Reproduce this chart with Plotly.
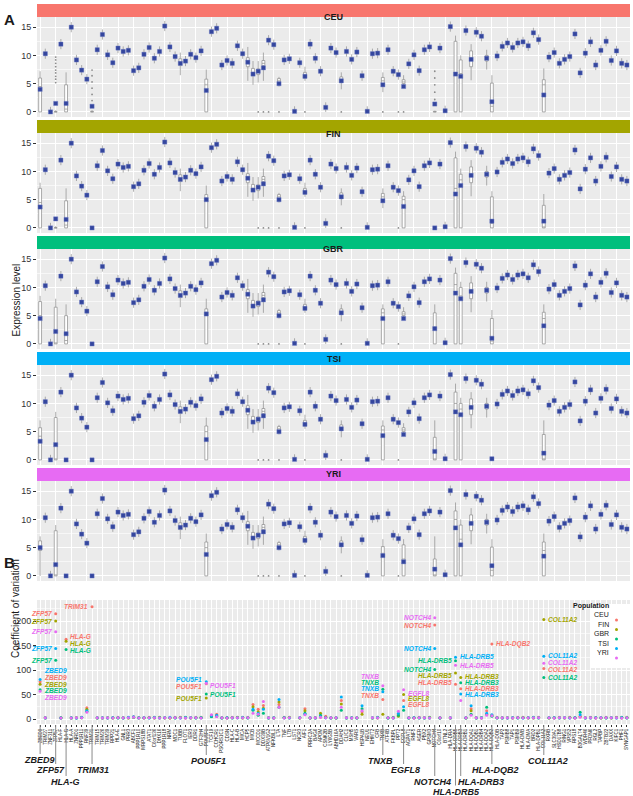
import plotly.graph_objects as go

W, H = 633, 796

genes = [
 "ZBED9","TRIM27","ZNF311","ZFP57","HLA-F","HLA-G","HLA-A","ZNRD1","PPP1R11","RNF39",
 "TRIM31","TRIM15","TRIM26","TRIM39","RPP21","HLA-E","GNL1","PRR3","ABCF1","PPP1R10",
 "MRPS18B","ATAT1","C6orf136","DHX16","PPP1R18","NRM","MDC1","TUBB","FLOT1","IER3",
 "DDR1","GTF2H4","POU5F1","TCF19","CCHCR1","PSORS1C1","CDSN","HLA-C","HLA-B","MICA",
 "HCP5","MICB","MCCD1","DDX39B","ATP6V1G2","NFKBIL1","LTA","TNF","LTB","LST1",
 "NCR3","AIF1","PRRC2A","BAG6","APOM","CSNK2B","LY6G5B","ABHD16A","DDAH2","CLIC1",
 "MSH5","VARS","HSPA1B","NEU1","EHMT2","CFB","TNXB","ATF6B","FKBPL","PPT2",
 "EGFL8","AGPAT1","RNF5","AGER","PBX2","GPSM3","NOTCH4","C6orf10","BTNL2","HLA-DRA",
 "HLA-DRB5","HLA-DRB3","HLA-DRB1","HLA-DQA1","HLA-DQB1","HLA-DRB4","HLA-DQA2","HLA-DQB2","HLA-DOB","TAP2",
 "PSMB8","TAP1","PSMB9","HLA-DMB","HLA-DMA","BRD2","HLA-DPB1","COL11A2","RXRB","SLC39A7",
 "HSD17B8","RING1","VPS52","RPS18","B3GALT4","WDR46","PFDN6","RGL2","TAPBP","ZBTB22",
 "DAXX","KIFC1","PHF1","SYNGAP1"]

pops = ["CEU", "FIN", "GBR", "TSI", "YRI"]
pop_colors = ["#F8766D", "#A3A500", "#00BF7D", "#00B0F6", "#E76BF3"]

# ---- Panel A: mean expression per gene ----
mean_CEU = [
 4.0, 10.3, 0.0, 1.5, 12.0, 1.5, 15.0, 9.2, 7.4, 5.8,
 1.0, 11.0, 13.7, 10.1, 8.7, 11.3, 10.7, 10.9, 7.3, 7.8,
 10.2, 11.4, 9.5, 10.7, 15.2, 11.5, 9.8, 8.6, 9.0, 10.2,
 9.6, 10.8, 3.8, 14.2, 14.8, 8.3, 9.1, 8.6, 11.7, 10.3,
 8.8, 6.7, 7.2, 7.8, 12.7, 11.9, 5.0, 9.2, 9.4, 0.1,
 8.7, 6.3, 12.0, 9.5, 7.2, 0.8, 11.3, 10.5, 5.5, 10.7,
 9.3, 10.6, 6.4, 0.1, 10.3, 10.4, 4.8, 11.0, 7.2, 6.6,
 4.5, 8.5, 10.1, 7.3, 11.0, 11.5, 1.4, 11.3, 0.2, 15.1,
 6.7, 6.3, 14.4, 9.3, 14.1, 13.4, 9.5, 1.8, 9.9, 11.6,
 12.2, 11.4, 12.2, 12.4, 11.7, 14.0, 12.8, 3.0, 9.7, 10.5,
 8.6, 9.3, 9.8, 13.8, 6.9, 10.4, 12.4, 8.3, 10.9, 12.5,
 9.1, 10.8, 8.6, 8.3]
# the other panels repeat the CEU pattern except at these genes
mean_FIN_diff = {0: 3.7, 3: 1.6, 10: 0.0, 32: 5.0, 70: 3.8, 76: 0.0, 80: 6.0, 81: 7.5,
                 87: 1.2, 97: 1.2}
mean_GBR_diff = {0: 4.5, 3: 2.2, 5: 1.8, 10: 0.0, 32: 5.3, 66: 4.5, 76: 2.7, 80: 9.0,
                 81: 8.0, 87: 1.0, 97: 3.2}
mean_TSI_diff = {0: 3.3, 3: 2.7, 5: 0.0, 10: 0.0, 32: 3.6, 66: 4.3, 76: 1.5, 80: 8.5,
                 81: 8.0, 87: 0.2, 97: 1.2}
mean_YRI_diff = {0: 5.0, 3: 2.0, 5: 0.0, 10: 0.0, 32: 3.8, 66: 3.6, 70: 2.5, 76: 1.2,
                 80: 8.5, 81: 5.5, 97: 3.5}

# genes with visibly wide boxes: index -> (q1, median, q3, lower whisker, upper whisker)
wide_CEU = {
 0: (0, 4.5, 6.0, 0, 7.2), 3: (0, 0, 0.05, 0, 0.3), 5: (0, 0.5, 4.8, 0, 7.0),
 10: (0, 0, 0.1, 0, 0.3), 27: (8.2, 8.6, 9.4, 6.5, 10.5), 32: (0, 4.8, 5.8, 0, 7.5),
 40: (8.0, 8.7, 9.6, 5.5, 11.5), 41: (6.5, 7.0, 7.7, 4.8, 9.0), 42: (6.6, 7.2, 7.6, 5.2, 9.0),
 43: (8.2, 8.6, 9.1, 5.5, 10.5), 46: (5.1, 5.5, 5.9, 4.5, 6.2), 51: (6.0, 6.5, 7.0, 5.5, 8.0),
 58: (5.2, 5.6, 6.2, 4.0, 7.0), 66: (5.0, 5.5, 6.1, 3.5, 7.0), 70: (5.0, 5.3, 5.7, 4.3, 6.5),
 76: (0, 0, 0.1, 0, 0.2),
 80: (0, 6.8, 12.5, 0, 13.5), 81: (0, 6.8, 9.2, 0, 10.0), 83: (8.0, 9.6, 10.8, 5.6, 12.0),
 86: (9.0, 9.5, 10.0, 7.5, 11.0), 87: (0, 1.0, 5.1, 0, 6.5), 97: (0, 4.8, 5.7, 0, 7.7)}
wide_FIN_diff = {0: (0, 4.5, 7.0, 0, 8.0), 10: (0, 0, 0, 0, 0), 32: (0, 5.3, 5.9, 0, 7.5),
                 70: (0, 5.0, 5.6, 0, 6.5), 76: (0, 0, 0, 0, 0), 80: (0, 7.0, 12.4, 0, 13.5),
                 81: (0, 8.5, 9.5, 0, 10.5), 87: (0, 0.8, 5.5, 0, 6.5), 97: (0, 0, 4.0, 0, 6.0)}
wide_GBR_diff = {0: (0, 5.0, 7.5, 0, 8.5), 3: (0, 0, 6.5, 0, 8.0), 5: (0, 0.6, 5.0, 0, 7.0),
                 10: (0, 0, 0, 0, 0), 32: (0, 5.6, 6.2, 0, 8.0), 66: (0, 5.5, 6.2, 0, 7.0),
                 76: (0, 3.0, 5.5, 0, 7.0), 80: (0, 10.5, 12.5, 0, 13.5),
                 81: (0, 8.5, 10.0, 0, 11.0), 87: (0, 0.5, 4.5, 0, 6.0), 97: (0, 4.5, 5.6, 0, 7.0)}
wide_TSI_diff = {0: (0, 4.2, 5.7, 0, 7.0), 3: (0, 0, 7.5, 0, 8.5), 5: (0, 0, 0, 0, 0),
                 10: (0, 0, 0, 0, 0), 32: (0, 5.0, 6.0, 0, 7.5), 66: (0, 5.3, 6.0, 0, 7.0),
                 76: (0, 0, 4.0, 0, 7.0), 80: (0, 10.0, 12.0, 0, 13.5),
                 81: (0, 9.0, 10.0, 0, 11.0), 87: (0, 0, 0.1, 0, 0.3), 97: (0, 0, 4.5, 0, 7.0)}
wide_YRI_diff = {0: (4.5, 5.3, 6.2, 0, 7.0), 3: (0, 0, 8.0, 0, 9.0), 5: (0, 0, 0, 0, 0),
                 10: (0, 0, 0, 0, 0), 32: (0, 5.0, 6.0, 0, 7.5), 66: (0, 4.0, 5.2, 0, 6.5),
                 70: (0, 3.0, 5.5, 0, 6.5), 76: (0, 0, 3.0, 0, 7.0),
                 80: (0, 10.0, 11.5, 0, 13.0), 81: (0, 6.5, 9.0, 0, 10.0),
                 97: (0, 4.5, 6.0, 0, 7.5)}

# outlying observations (small grey dots): gene index -> values
out_CEU = {3: [5.2, 5.8, 6.3, 6.9, 7.4, 8.0, 8.6, 9.2, 9.7], 10: [2.0, 3.1, 4.2, 5.3, 6.4, 7.4],
           76: [2.2, 3.5, 4.8, 6.0, 7.2], 42: [0], 43: [0], 44: [0], 46: [0], 51: [0],
           58: [0], 66: [0], 69: [0], 70: [0]}
out_other = {42: [0], 43: [0], 44: [0], 46: [0], 51: [0], 58: [0], 69: [0]}

# ---- Panel B: coefficient of variation per gene and population ----
cv_CEU = [76, 3, None, 215, 3, 163, 3, 3, 4, 23,
 229, 2, 3, 2, 3, 4, 2, 3, 5, 3,
 2, 4, 3, 3, 2, 3, 4, 3, 2, 3,
 4, 3, 72, 8, 10, 3, 2, 4, 3, 3,
 4, 30, 20, 28, 3, 2, 30, 4, 3, None,
 3, 21, 2, 3, 4, 6, 3, 2, 38, 3,
 2, 3, 15, None, 3, 2, 40, 3, 4, 10,
 38, 3, 2, 4, 3, 3, 192, 3, None, 2,
 71, 62, 2, 21, 3, 2, 17, 153, 4, 3,
 2, 3, 4, 3, 2, 3, 4, 103, 3, 2,
 4, 3, 3, 2, 6, 3, 4, 2, 3, 4,
 3, 4, 2, 3]
cv_FIN = [71, 2, None, 200, 2, 159, 2, 3, 3, 20,
 None, 3, 2, 3, 2, 3, 3, 2, 4, 3,
 3, 3, 2, 4, 3, 2, 3, 4, 3, 2,
 3, 4, 43, 6, 7, 2, 3, 3, 4, 2,
 3, 25, 15, 22, 2, 3, 35, 3, 4, None,
 2, 17, 3, 2, 12, 4, 2, 3, 31, 2,
 3, 2, 10, None, 2, 3, 10, 2, 3, 6,
 50, 2, 3, 3, 2, 4, None, 2, None, 3,
 94, 85, 3, 17, 2, 3, 10, 8, 3, 2,
 3, 2, 3, 4, 3, 2, 3, 203, 2, 3,
 3, 2, 4, 3, 5, 2, 3, 3, 2, 3,
 2, 3, 3, 4]
cv_GBR = [60, 3, None, 120, 3, 142, 2, 2, 3, 16,
 None, 2, 2, 3, 3, 2, 3, 3, 4, 2,
 3, 3, 4, 2, 3, 3, 2, 3, 4, 3,
 2, 3, 51, 5, 6, 3, 3, 2, 3, 4,
 2, 18, 8, 12, 3, 2, 24, 3, 2, None,
 3, 12, 2, 3, 8, 3, 3, 2, 18, 3,
 2, 3, 21, None, 2, 4, 61, 3, 2, 8,
 18, 3, 3, 2, 3, 2, 101, 3, None, 2,
 119, 74, 2, 10, 3, 3, 24, 6, 2, 3,
 3, 3, 2, 3, 3, 4, 2, 85, 3, 3,
 2, 3, 3, 3, 14, 3, 2, 3, 3, 2,
 3, 3, 4, 2]
cv_TSI = [81, 2, None, 144, 2, None, 3, 2, 4, 17,
 None, 3, 3, 2, 3, 3, 2, 4, 5, 3,
 3, 2, 3, 3, 3, 4, 3, 2, 3, 3,
 3, 3, 76, 7, 8, 2, 3, 3, 3, 3,
 3, 20, 12, 20, 2, 3, 40, 3, 3, None,
 3, 10, 3, 2, 5, 3, 2, 3, 45, 2,
 3, 2, 27, None, 3, 3, 56, 2, 3, 12,
 25, 2, 3, 3, 2, 3, 144, 2, None, 3,
 126, 51, 3, 27, 2, 3, 12, 9, 3, 2,
 2, 3, 3, 2, 3, 3, 3, 128, 3, 3,
 3, 3, 2, 3, 9, 2, 3, 3, 3, 3,
 3, 2, 3, 3]
cv_YRI = [57, 3, None, 178, 2, None, 2, 3, 3, 14,
 None, 3, 2, 3, 2, 3, 3, 3, 4, 2,
 3, 3, 3, 2, 3, 3, 3, 3, 2, 3,
 3, 2, 73, 9, 5, 3, 2, 3, 3, 3,
 3, 12, 10, 36, 3, 2, 24, 2, 3, None,
 3, 9, 3, 3, 4, 3, 3, 3, 24, 3,
 2, 3, 17, None, 3, 3, 68, 3, 2, 16,
 60, 3, 2, 3, 3, 2, 207, 3, None, 3,
 110, 38, 3, 8, 3, 2, 8, 7, 3, 3,
 3, 2, 3, 3, 3, 3, 3, 114, 3, 2,
 3, 3, 3, 2, 4, 3, 3, 2, 3, 3,
 3, 3, 2, 3]

# highlighted genes (labels below the x axis)
group_genes = ["ZBED9", "ZFP57", "HLA-G", "TRIM31", "POU5F1", "TNXB", "EGFL8",
               "NOTCH4", "HLA-DRB5", "HLA-DRB3", "HLA-DQB2", "COL11A2"]

def merged_list(base, diff):
    out = list(base)
    for k, v in diff.items():
        out[k] = v
    return out

def merged_dict(base, diff):
    out = dict(base)
    out.update(diff)
    return out

means = {"CEU": mean_CEU, "FIN": merged_list(mean_CEU, mean_FIN_diff),
         "GBR": merged_list(mean_CEU, mean_GBR_diff), "TSI": merged_list(mean_CEU, mean_TSI_diff),
         "YRI": merged_list(mean_CEU, mean_YRI_diff)}
wides = {"CEU": wide_CEU, "FIN": merged_dict(wide_CEU, wide_FIN_diff),
         "GBR": merged_dict(wide_CEU, wide_GBR_diff), "TSI": merged_dict(wide_CEU, wide_TSI_diff),
         "YRI": merged_dict(wide_CEU, wide_YRI_diff)}
outs = {"CEU": out_CEU, "FIN": out_other, "GBR": out_other, "TSI": out_other, "YRI": out_other}
cvs = dict(zip(pops, [cv_CEU, cv_FIN, cv_GBR, cv_TSI, cv_YRI]))
pcol = dict(zip(pops, pop_colors))

# ---------------- layout geometry (pixels) ----------------
X0, X1 = 37, 630
def py(p):
    return 1 - p / H
n = len(genes)
xrange_ = [-0.6, n - 1 + 0.6]

fig = go.Figure()
shapes, annots = [], []
BG = "#EBEBEB"
FONT = "Liberation Sans, Arial, sans-serif"

box_half, wh = 0.25, 0.9
for i, p in enumerate(pops):
    ax = "" if i == 0 else str(i + 1)
    m = means[p]
    q1, med, q3, lo, hi = [], [], [], [], []
    for g in range(n):
        if g in wides[p]:
            a, b, c, d, e = wides[p][g]
        else:
            v = m[g]
            a, b, c = max(v - box_half, 0), v, v + box_half
            d, e = max(v - wh, 0), v + wh
        q1.append(a); med.append(b); q3.append(c); lo.append(d); hi.append(e)
    fig.add_trace(go.Box(x=genes, q1=q1, median=med, q3=q3, lowerfence=lo, upperfence=hi,
                         xaxis="x" + ax, yaxis="y" + ax, fillcolor="white",
                         line=dict(color="#8C8C8C", width=0.7), width=0.55,
                         whiskerwidth=0, boxpoints=False, showlegend=False, hoverinfo="skip"))
    ox, oy = [], []
    for g, vals in outs[p].items():
        ox += [genes[g]] * len(vals)
        oy += vals
    fig.add_trace(go.Scatter(x=ox, y=oy, mode="markers", xaxis="x" + ax, yaxis="y" + ax,
                             marker=dict(size=1.8, color="#8C8C8C"), showlegend=False,
                             hoverinfo="skip"))
    fig.add_trace(go.Scatter(x=genes, y=m, mode="markers", xaxis="x" + ax, yaxis="y" + ax,
                             marker=dict(symbol="square", size=4.2, color="#34469E",
                                         line=dict(width=0.6, color="rgba(110,125,200,0.7)")),
                             showlegend=False, hoverinfo="skip"))
    top = 17 + 116 * i
    bot = 117 + 116 * i
    fig.layout["xaxis" + ax] = dict(domain=[X0 / W, X1 / W], anchor="y" + ax, type="category",
                                    categoryorder="array", categoryarray=genes, range=xrange_,
                                    showticklabels=False, ticks="", showgrid=True,
                                    gridcolor="white", gridwidth=0.6, zeroline=False,
                                    showline=False, automargin=False)
    fig.layout["yaxis" + ax] = dict(domain=[py(bot), py(top)], anchor="x" + ax, range=[-0.9, 16.8],
                                    tickvals=[0, 5, 10, 15], ticks="outside", ticklen=3,
                                    tickcolor="#333333", tickwidth=0.8,
                                    tickfont=dict(size=9, color="#333333", family=FONT),
                                    showgrid=True, gridcolor="white", gridwidth=0.9,
                                    minor=dict(dtick=2.5, tick0=0, showgrid=True,
                                               gridcolor="#F7F7F7", gridwidth=0.5),
                                    zeroline=False, showline=False, automargin=False)
    shapes.append(dict(type="rect", xref="paper", yref="paper", x0=X0 / W, x1=X1 / W,
                       y0=py(top), y1=py(top - 13), fillcolor=pcol[p], line=dict(width=0),
                       layer="below"))
    shapes.append(dict(type="rect", xref="paper", yref="paper", x0=X0 / W, x1=X1 / W,
                       y0=py(bot), y1=py(top), fillcolor=BG, line=dict(width=0), layer="below"))
    annots.append(dict(x=(X0 + X1) / 2 / W, y=py(top - 6.5), xref="paper", yref="paper",
                       text="<b>%s</b>" % p, showarrow=False,
                       font=dict(size=9, color="#1A1A1A", family=FONT)))

# ---------------- Panel B ----------------
BT, BB = 600, 724
for p in pops:
    fig.add_trace(go.Scatter(x=genes, y=cvs[p], mode="markers", xaxis="x6", yaxis="y6",
                             marker=dict(size=3.0, color=pcol[p]), showlegend=False,
                             hoverinfo="skip"))
fig.layout["xaxis6"] = dict(domain=[X0 / W, X1 / W], anchor="y6", type="category",
                            categoryorder="array", categoryarray=genes, range=xrange_,
                            tickvals=genes, ticktext=genes, tickangle=-90, ticks="outside",
                            ticklen=2, tickcolor="#333333", tickwidth=0.6,
                            tickfont=dict(size=4.5, color="#1A1A1A", family=FONT),
                            showgrid=True, gridcolor="white", gridwidth=0.6, zeroline=False,
                            showline=False, automargin=False)
fig.layout["yaxis6"] = dict(domain=[py(BB), py(BT)], anchor="x6", range=[-10, 243],
                            tickvals=[0, 50, 100, 150, 200], ticks="outside", ticklen=3,
                            tickcolor="#333333", tickwidth=0.8,
                            tickfont=dict(size=9, color="#333333", family=FONT),
                            showgrid=True, gridcolor="white", gridwidth=0.9,
                            minor=dict(dtick=25, tick0=0, showgrid=True, gridcolor="#F7F7F7",
                                       gridwidth=0.5),
                            zeroline=False, showline=False, automargin=False)
shapes.append(dict(type="rect", xref="paper", yref="paper", x0=X0 / W, x1=X1 / W,
                   y0=py(BB), y1=py(BT), fillcolor=BG, line=dict(width=0), layer="below"))

# labels next to high-CV points: (gene, population, side, vertical shift px)
cv_labels = [
 ("ZFP57", "CEU", "L", 0), ("ZFP57", "FIN", "L", 0), ("ZFP57", "YRI", "L", 0),
 ("ZFP57", "TSI", "L", 0), ("ZFP57", "GBR", "L", 0),
 ("ZBED9", "TSI", "R", 9), ("ZBED9", "CEU", "R", 4), ("ZBED9", "FIN", "R", 0),
 ("ZBED9", "GBR", "R", -0.5), ("ZBED9", "YRI", "R", -6.5),
 ("HLA-G", "CEU", "R", 2.5), ("HLA-G", "FIN", "R", -2), ("HLA-G", "GBR", "R", -0.5),
 ("TRIM31", "CEU", "L", 0),
 ("POU5F1", "TSI", "L", 2.5), ("POU5F1", "CEU", "L", -2.5), ("POU5F1", "YRI", "R", -2.5),
 ("POU5F1", "GBR", "R", 0), ("POU5F1", "FIN", "L", -0.5),
 ("TNXB", "YRI", "L", 9), ("TNXB", "GBR", "L", 6.4), ("TNXB", "TSI", "L", 3.3),
 ("TNXB", "CEU", "L", 4.4),
 ("EGFL8", "YRI", "R", -3.5), ("EGFL8", "FIN", "R", -3.5), ("EGFL8", "CEU", "R", -3.7),
 ("NOTCH4", "YRI", "L", 0), ("NOTCH4", "CEU", "L", 0), ("NOTCH4", "TSI", "L", 0),
 ("NOTCH4", "GBR", "L", 0),
 ("HLA-DRB5", "GBR", "L", 0), ("HLA-DRB5", "TSI", "R", 0.5), ("HLA-DRB5", "YRI", "R", -0.5),
 ("HLA-DRB5", "FIN", "L", -2.5), ("HLA-DRB5", "CEU", "L", 1.5),
 ("HLA-DRB3", "FIN", "R", 0.5), ("HLA-DRB3", "GBR", "R", 0), ("HLA-DRB3", "CEU", "R", 0),
 ("HLA-DRB3", "TSI", "R", -0.5),
 ("HLA-DQB2", "CEU", "R", 0),
 ("COL11A2", "FIN", "R", 0), ("COL11A2", "TSI", "R", 0.5), ("COL11A2", "YRI", "R", 1),
 ("COL11A2", "CEU", "R", -1), ("COL11A2", "GBR", "R", 0)]
for g, p, side, dy in cv_labels:
    gi = genes.index(g)
    annots.append(dict(x=gi, y=cvs[p][gi], xref="x6", yref="y6", text="<b><i>%s</i></b>" % g,
                       showarrow=False, xanchor="right" if side == "L" else "left",
                       xshift=-2 if side == "L" else 2, yshift=dy,
                       font=dict(size=6.6, color=pcol[p], family=FONT)))

# gene group labels under the axis: (gene, label centre y px, x shift px)
group_pos = {"ZBED9": (760, -1), "ZFP57": (770, -5), "HLA-G": (782, -1), "TRIM31": (770, 1),
             "POU5F1": (761, 2), "TNXB": (761, -2), "EGFL8": (770, 2), "NOTCH4": (782, -2),
             "HLA-DRB5": (791.5, 1), "HLA-DRB3": (782, 20), "HLA-DQB2": (770, 4),
             "COL11A2": (761, 4)}
for g in group_genes:
    gi = genes.index(g)
    yc, dx = group_pos[g]
    shapes.append(dict(type="line", xref="x6", yref="paper", x0=gi, x1=gi, y0=py(725),
                       y1=py(yc - 6), line=dict(color="#8A8A8A", width=1)))
    annots.append(dict(x=gi, y=py(yc), xref="x6", yref="paper", text="<b><i>%s</i></b>" % g,
                       showarrow=False, xshift=dx, yanchor="middle",
                       font=dict(size=9, color="#1A1A1A", family=FONT)))

# legend of panel B (drawn by hand: text, then key)
shapes.append(dict(type="rect", xref="paper", yref="paper", x0=590 / W, x1=632 / W,
                   y0=py(668), y1=py(604), fillcolor="white", line=dict(width=0)))
annots.append(dict(x=611 / W, y=py(612), xref="paper", yref="paper", text="<b>Population</b>",
                   showarrow=False, font=dict(size=7, color="#1A1A1A", family=FONT)))
for k, p in enumerate(pops):
    yk = 620 + 9.5 * k
    annots.append(dict(x=611 / W, y=py(yk), xref="paper", yref="paper", text=p,
                       showarrow=False, xanchor="right",
                       font=dict(size=7, color="#1A1A1A", family=FONT)))
    shapes.append(dict(type="circle", xref="paper", yref="paper", x0=615 / W, x1=618 / W,
                       y0=py(yk + 1.5), y1=py(yk - 1.5), fillcolor=pcol[p], line=dict(width=0)))

# titles and panel letters
annots += [
 dict(x=8 / W, y=py(300), xref="paper", yref="paper", text="Expression level", textangle=-90,
      showarrow=False, font=dict(size=10, color="#1A1A1A", family=FONT)),
 dict(x=8 / W, y=py(660), xref="paper", yref="paper", text="Coefficient of variation",
      textangle=-90, showarrow=False, font=dict(size=10, color="#1A1A1A", family=FONT)),
 dict(x=2 / W, y=py(9), xref="paper", yref="paper", text="<b>A</b>", xanchor="left",
      showarrow=False, font=dict(size=15, color="#1A1A1A", family=FONT)),
 dict(x=2 / W, y=py(573), xref="paper", yref="paper", text="<b>B</b>", xanchor="left",
      showarrow=False, font=dict(size=15, color="#1A1A1A", family=FONT)),
]

fig.update_layout(width=W, height=H, margin=dict(l=0, r=0, t=0, b=0, pad=0),
                  paper_bgcolor="white", plot_bgcolor="rgba(0,0,0,0)",
                  shapes=shapes, annotations=annots, showlegend=False,
                  font=dict(family=FONT))
fig.write_html("out.html", config={"displayModeBar": False},
               post_script="document.body.style.margin='0px';document.body.style.overflow='hidden';")
